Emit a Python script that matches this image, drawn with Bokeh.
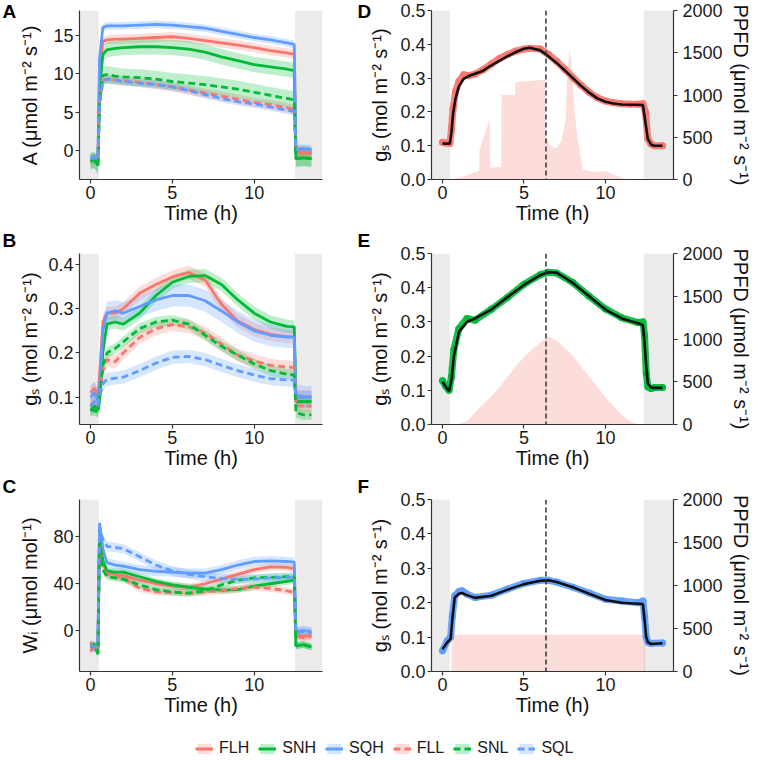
from bokeh.plotting import figure
from bokeh.layouts import column, row
from bokeh.models import (Range1d, LinearAxis, Span, BoxAnnotation, Legend,
                          LegendItem, FixedTicker, NumeralTickFormatter)
from bokeh.embed import file_html
from bokeh.resources import INLINE

# ---------------- data ----------------
SERIES = ["FLH", "SNH", "SQH", "FLL", "SNL", "SQL"]
SERIES_COLORS = ["#F8766D", "#00BA38", "#619CFF", "#F8766D", "#00BA38", "#619CFF"]
SERIES_DASH = ["solid", "solid", "solid", "7 4", "7 4", "7 4"]

LIGHTS_AC = [0.5, 12.5]
LIGHTS_DF = [0.45, 12.35]
MIDDAY = 6.35

T_AC = [0, 0.25, 0.45, 0.55, 0.75, 1, 1.5, 2, 3, 4, 5, 6, 7, 8, 9, 10, 11, 12, 12.45, 12.55, 13, 13.5]

A_FLH = [-1.2, -1.0, -1.2, 10, 14.2, 14.4, 14.5, 14.5, 14.6, 14.7, 14.8, 14.6, 14.3, 14.0, 13.7, 13.4, 13.0, 12.7, 12.5, -0.3, -0.2, -0.3]
A_SNH = [-1.3, -1.2, -1.9, 8, 12.5, 13.1, 13.3, 13.4, 13.5, 13.5, 13.4, 13.2, 12.8, 12.2, 11.7, 11.2, 10.9, 10.6, 10.4, -1.0, -0.9, -1.0]
A_SQH = [-1.0, -0.9, -1.0, 12, 16.0, 16.2, 16.2, 16.2, 16.3, 16.4, 16.3, 16.1, 15.9, 15.5, 15.1, 14.7, 14.4, 14.0, 13.8, 0.2, 0.3, 0.2]
A_FLL = [-1.2, -1.1, -1.3, 6, 9.2, 9.3, 9.2, 9.1, 8.9, 8.6, 8.3, 7.9, 7.5, 7.1, 6.7, 6.3, 6.0, 5.6, 5.4, -0.3, -0.2, -0.3]
A_SNL = [-1.3, -1.2, -1.9, 6, 9.8, 9.9, 9.7, 9.6, 9.5, 9.3, 9.0, 8.8, 8.6, 8.3, 8.0, 7.6, 7.2, 6.8, 6.6, -1.0, -0.9, -1.0]
A_SQL = [-1.0, -0.9, -1.1, 6, 9.0, 9.3, 9.2, 9.0, 8.8, 8.6, 8.3, 7.8, 7.3, 6.8, 6.4, 6.1, 5.7, 5.3, 5.1, 0.2, 0.3, 0.2]
A_SE = [0.6, 1.0, 0.5, 0.6, 1.1, 0.5]

B_FLH = [0.11, 0.12, 0.10, 0.15, 0.27, 0.29, 0.29, 0.30, 0.335, 0.355, 0.372, 0.382, 0.365, 0.31, 0.272, 0.253, 0.242, 0.237, 0.236, 0.10, 0.10, 0.10]
B_SNH = [0.07, 0.08, 0.07, 0.09, 0.20, 0.265, 0.27, 0.265, 0.29, 0.33, 0.36, 0.373, 0.375, 0.355, 0.32, 0.29, 0.27, 0.26, 0.259, 0.09, 0.09, 0.09]
B_SQH = [0.10, 0.11, 0.09, 0.12, 0.25, 0.29, 0.295, 0.29, 0.305, 0.32, 0.33, 0.33, 0.318, 0.295, 0.27, 0.25, 0.24, 0.236, 0.236, 0.105, 0.10, 0.10]
B_FLL = [0.08, 0.09, 0.08, 0.10, 0.16, 0.185, 0.18, 0.20, 0.235, 0.255, 0.264, 0.26, 0.245, 0.22, 0.195, 0.182, 0.172, 0.168, 0.167, 0.08, 0.08, 0.08]
B_SNL = [0.07, 0.07, 0.065, 0.10, 0.17, 0.20, 0.21, 0.225, 0.255, 0.27, 0.274, 0.265, 0.24, 0.215, 0.195, 0.175, 0.16, 0.152, 0.15, 0.065, 0.06, 0.06]
B_SQL = [0.08, 0.09, 0.08, 0.10, 0.13, 0.14, 0.143, 0.145, 0.16, 0.177, 0.19, 0.192, 0.185, 0.172, 0.16, 0.15, 0.142, 0.139, 0.138, 0.10, 0.10, 0.10]
B_SE = [0.015, 0.015, 0.025, 0.015, 0.012, 0.015]

C_FLH = [-10, -16, -14, 80, 58, 50, 48, 47, 43, 40, 38, 37, 40, 44, 48, 52, 54.5, 54, 53, -4, -5, -4]
C_SNH = [-14, -12, -20, 85, 60, 51, 50, 50, 46, 42, 39, 37, 35.5, 34.5, 35, 38, 40, 42, 42.8, -13, -12, -14]
C_SQH = [-12, -15, -13, 92, 70, 58, 56, 55, 52, 50.5, 50, 49, 49, 52, 56, 59, 59.5, 59, 58.5, -1, 0, -1]
C_FLL = [-18, -12, -15, 78, 55, 48, 46, 45, 36, 33, 32.5, 32, 33, 34, 36, 37, 36, 34, 32.8, -5, -6, -5]
C_SNL = [-14, -12, -20, 80, 52, 46, 45, 44, 39, 35, 33, 32, 34, 39, 43, 45, 45.5, 46, 46, -13, -12, -14]
C_SQL = [-13, -14, -12, 88, 78, 72, 71, 70, 63, 56, 51, 48, 46, 44.5, 44, 44, 45, 45.5, 45.7, -2, -1, -2]
C_SE = [3, 3, 4, 3, 3, 4]

D_T = [0, 0.2, 0.45, 0.55, 0.65, 0.8, 1.0, 1.3, 1.6, 2, 2.5, 3, 3.5, 4, 4.5, 5, 5.35, 6, 6.5, 7, 7.5, 8, 8.5, 9, 9.5, 10, 10.5, 11, 11.5, 12, 12.3, 12.45, 12.6, 12.8, 13, 13.5]
D_FIT = [0.107, 0.106, 0.106, 0.14, 0.195, 0.24, 0.275, 0.298, 0.306, 0.313, 0.322, 0.338, 0.352, 0.365, 0.377, 0.387, 0.39, 0.382, 0.365, 0.345, 0.323, 0.3, 0.277, 0.257, 0.24, 0.23, 0.225, 0.222, 0.221, 0.221, 0.22, 0.17, 0.12, 0.103, 0.1, 0.1]
D_OBS = [0.11, 0.108, 0.107, 0.15, 0.21, 0.26, 0.29, 0.31, 0.307, 0.312, 0.325, 0.342, 0.358, 0.37, 0.38, 0.386, 0.388, 0.386, 0.37, 0.35, 0.326, 0.302, 0.279, 0.258, 0.242, 0.232, 0.227, 0.224, 0.223, 0.223, 0.224, 0.2, 0.12, 0.105, 0.1, 0.1]
D_PPFD_T = [0.5, 1.0, 1.5, 2.0, 2.25, 2.27, 2.9, 2.93, 3.6, 3.62, 4.45, 4.47, 5.5, 6.3, 6.35, 6.6, 7.0, 7.3, 7.55, 7.65, 7.8, 7.95, 8.1, 8.3, 8.6, 9.0, 9.5, 10.0, 10.5, 11.0, 11.5]
D_PPFD = [0, 20, 50, 90, 100, 350, 720, 140, 150, 1000, 1000, 1150, 1170, 1180, 520, 400, 370, 460, 700, 1200, 1550, 1300, 800, 480, 120, 100, 90, 100, 60, 20, 0]

E_T = [0, 0.2, 0.4, 0.55, 0.7, 1.0, 1.5, 2, 3, 4, 5, 6, 6.5, 7, 8, 9, 10, 11, 12, 12.3, 12.4, 12.5, 12.6, 12.8, 13, 13.5]
E_FIT = [0.125, 0.11, 0.097, 0.13, 0.2, 0.27, 0.3, 0.31, 0.336, 0.373, 0.408, 0.437, 0.445, 0.444, 0.414, 0.375, 0.336, 0.31, 0.296, 0.29, 0.24, 0.17, 0.12, 0.108, 0.107, 0.107]
E_OBS = [0.128, 0.112, 0.1, 0.14, 0.22, 0.28, 0.31, 0.305, 0.337, 0.372, 0.41, 0.438, 0.445, 0.443, 0.415, 0.375, 0.338, 0.312, 0.298, 0.3, 0.26, 0.15, 0.11, 0.105, 0.108, 0.108]
E_PPFD_T = [0.9, 1.5, 2, 2.5, 3, 3.5, 4, 4.5, 5, 5.5, 6, 6.5, 7, 7.5, 8, 8.5, 9, 9.5, 10, 10.5, 11, 11.5, 12]
E_PPFD = [0, 40, 140, 240, 330, 440, 560, 680, 790, 880, 960, 1030, 980, 900, 800, 680, 560, 440, 320, 210, 110, 40, 0]

F_T = [0, 0.3, 0.5, 0.6, 0.75, 1.0, 1.2, 1.5, 2, 3, 4, 5, 6, 6.5, 7, 8, 9, 10, 11, 12, 12.3, 12.4, 12.5, 12.6, 12.8, 13.5]
F_FIT = [0.065, 0.085, 0.095, 0.15, 0.215, 0.226, 0.228, 0.222, 0.214, 0.22, 0.238, 0.254, 0.264, 0.265, 0.26, 0.245, 0.226, 0.208, 0.2, 0.197, 0.196, 0.15, 0.1, 0.085, 0.08, 0.082]
F_OBS = [0.06, 0.09, 0.1, 0.16, 0.22, 0.232, 0.235, 0.225, 0.215, 0.222, 0.24, 0.256, 0.265, 0.265, 0.26, 0.245, 0.228, 0.21, 0.205, 0.2, 0.205, 0.16, 0.1, 0.085, 0.082, 0.083]
F_PPFD_T = [0.55, 12.45]
F_PPFD = [430, 430]

X_TICKS = [0, 5, 10]

# ---------------- styling / layout ----------------
FONT = "Liberation Sans"
X_LO, X_HI = -0.675, 14.175
WL, WR = 353, 407
ROW_H = [228, 246, 246]
ROW_TB = [(10, 49), (25, 50), (25, 49)]
TITLE_VALIGN = ["bottom", "top", "top"]
TITLE_STANDOFF = [-22, 1, 1]
HL = 40


def style_axis(ax, side, standoff):
    ax.axis_line_color = "#333333"
    ax.axis_line_width = 1.2
    ax.major_tick_line_color = "#333333"
    ax.major_tick_line_width = 1.2
    ax.major_tick_out = 4
    ax.major_tick_in = 0
    ax.minor_tick_line_color = None
    ax.major_label_text_font = FONT
    ax.major_label_text_font_size = "18px"
    ax.major_label_text_color = "#1a1a1a"
    ax.axis_label_text_font = FONT
    ax.axis_label_text_font_size = "20px"
    ax.axis_label_text_font_style = "normal"
    ax.axis_label_text_color = "#111111"
    ax.axis_label_standoff = standoff
    ax.major_label_standoff = 5 if side == "right" else 2


def make_fig(width, height, left, right, row_i, y_range, ylab_standoff, letter, letter_x):
    top, bottom = ROW_TB[row_i]
    p = figure(width=width, height=height, x_range=Range1d(X_LO, X_HI), y_range=y_range,
               toolbar_location=None, output_backend="svg",
               min_border_left=left, min_border_right=right,
               min_border_top=top, min_border_bottom=bottom)
    p.grid.visible = False
    p.outline_line_color = None
    p.background_fill_color = "white"
    p.border_fill_color = "white"
    p.xaxis.ticker = FixedTicker(ticks=X_TICKS)
    p.xaxis.axis_label = "Time (h)"
    style_axis(p.xaxis[0], "below", 0)
    style_axis(p.yaxis[0], "left", ylab_standoff)
    # panel letter as a left-aligned title shifted into the left margin
    p.title.text = letter
    p.title.align = "left"
    p.title.vertical_align = TITLE_VALIGN[row_i]
    p.title.offset = letter_x - left
    p.title.standoff = TITLE_STANDOFF[row_i]
    p.title.text_font = FONT
    p.title.text_font_size = "19px"
    p.title.text_font_style = "bold"
    p.title.text_color = "black"
    return p


def add_bands(p, lights):
    p.add_layout(BoxAnnotation(right=lights[0], fill_color="#EBEBEB", fill_alpha=1.0,
                               line_color=None, level="underlay"))
    p.add_layout(BoxAnnotation(left=lights[1], fill_color="#EBEBEB", fill_alpha=1.0,
                               line_color=None, level="underlay"))


def panel_ac(values, se, yr, yticks, ylabel, row_i, letter, ylab_standoff):
    p = make_fig(WL, ROW_H[row_i], 79, WL - 79 - 243, row_i, yr, ylab_standoff, letter, 2)
    p.yaxis.ticker = FixedTicker(ticks=yticks)
    p.yaxis.axis_label = ylabel
    add_bands(p, LIGHTS_AC)
    for vals, s, c in zip(values, se, SERIES_COLORS):
        lo = [v - s for v in vals]
        hi = [v + s for v in vals]
        p.varea(x=T_AC, y1=lo, y2=hi, fill_color=c, fill_alpha=0.25)
    for vals, c, d in zip(values, SERIES_COLORS, SERIES_DASH):
        p.line(T_AC, vals, line_color=c, line_width=2.8, line_dash=d)
    return p


def panel_df(t, obs, fit, pt, ppfd, color, row_i, letter):
    p = make_fig(WR, ROW_H[row_i], 78, WR - 78 - 242, row_i, Range1d(0, 0.5), 6, letter, 4)
    p.extra_y_ranges = {"ppfd": Range1d(0, 2000)}
    p.yaxis.ticker = FixedTicker(ticks=[0, 0.1, 0.2, 0.3, 0.4, 0.5])
    p.yaxis.formatter = NumeralTickFormatter(format="0.0")
    p.yaxis.axis_label = "gₛ (mol m⁻² s⁻¹)"
    ax2 = LinearAxis(y_range_name="ppfd", ticker=FixedTicker(ticks=[0, 500, 1000, 1500, 2000]),
                     axis_label="PPFD (μmol m⁻² s⁻¹)")
    style_axis(ax2, "right", 4)
    p.add_layout(ax2, "right")
    add_bands(p, LIGHTS_DF)
    p.varea(x=pt, y1=[0] * len(pt), y2=ppfd, y_range_name="ppfd",
            fill_color="#F8766D", fill_alpha=0.25)
    p.line(t, obs, line_color=color, line_width=7, line_alpha=0.9,
           line_join="round", line_cap="round")
    p.scatter(t, obs, size=7, fill_color=color, line_color=None, fill_alpha=0.9)
    p.line(t, fit, line_color="#111111", line_width=2.6)
    p.add_layout(Span(location=MIDDAY, dimension="height", line_color="#333333",
                      line_width=1.5, line_dash="5 3"))
    return p


pA = panel_ac([A_FLH, A_SNH, A_SQH, A_FLL, A_SNL, A_SQL], A_SE, Range1d(-3.7, 18.2),
              [0, 5, 10, 15], "A (μmol m⁻² s⁻¹)", 0, "A", 9)
pB = panel_ac([B_FLH, B_SNH, B_SQH, B_FLL, B_SNL, B_SQL], B_SE, Range1d(0.038, 0.425),
              [0.1, 0.2, 0.3, 0.4], "gₛ (mol m⁻² s⁻¹)", 1, "B", 4)
pC = panel_ac([C_FLH, C_SNH, C_SQH, C_FLL, C_SNL, C_SQL], C_SE, Range1d(-35, 112),
              [0, 40, 80], "Wᵢ (μmol mol⁻¹)", 2, "C", 9)

pD = panel_df(D_T, D_OBS, D_FIT, D_PPFD_T, D_PPFD, "#F8766D", 0, "D")
pE = panel_df(E_T, E_OBS, E_FIT, E_PPFD_T, E_PPFD, "#00BA38", 1, "E")
pF = panel_df(F_T, F_OBS, F_FIT, F_PPFD_T, F_PPFD, "#619CFF", 2, "F")

# legend strip
pl = figure(width=WL + WR, height=HL, x_range=Range1d(0, 1), y_range=Range1d(0, 1),
            toolbar_location=None, output_backend="svg", min_border=0,
            x_axis_location=None, y_axis_location=None)
pl.grid.visible = False
pl.outline_line_color = None
items = []
for name, c, d in zip(SERIES, SERIES_COLORS, SERIES_DASH):
    q = pl.quad(left=[5], right=[6], bottom=[5], top=[6], fill_color=c, fill_alpha=0.25,
                line_color=None)
    ln = pl.line([5, 6], [5, 6], line_color=c, line_width=3, line_dash=d)
    items.append(LegendItem(label=name, renderers=[q, ln]))
legend = Legend(items=items, orientation="horizontal", location=(195, 3),
                glyph_width=18, glyph_height=13, label_standoff=6, spacing=9,
                padding=0, margin=0, border_line_color=None, background_fill_alpha=0,
                label_text_font=FONT, label_text_font_size="16px", label_height=13,
                label_text_color="#1a1a1a")
pl.add_layout(legend, "center")

layout = column(row(pA, pD), row(pB, pE), row(pC, pF), pl)

with open("out.html", "w") as f:
    f.write(file_html(layout, INLINE))
